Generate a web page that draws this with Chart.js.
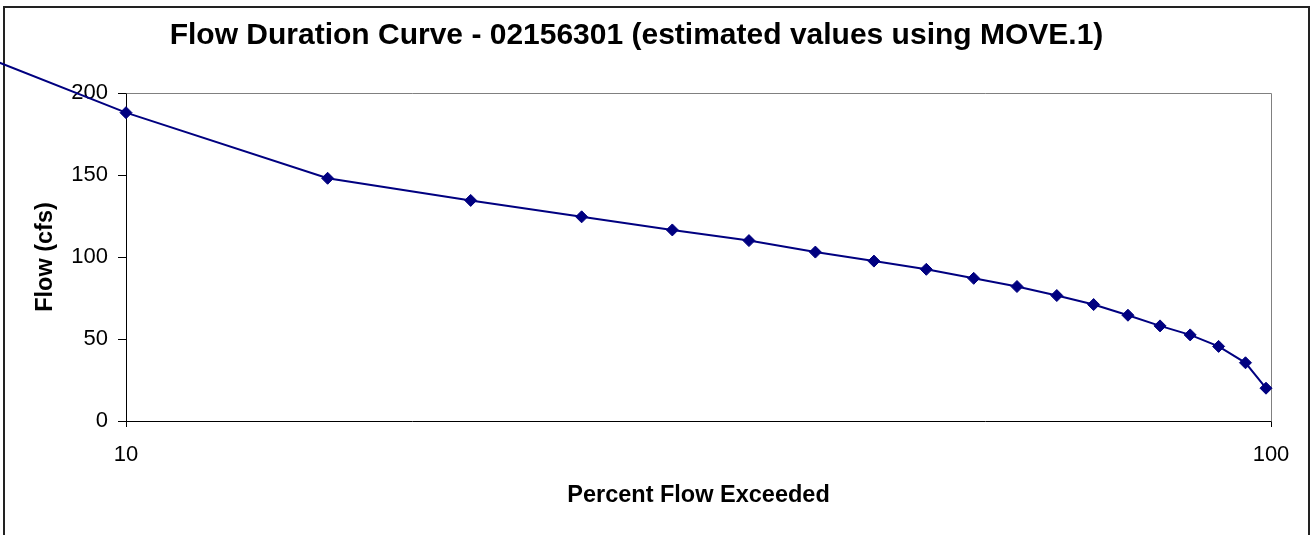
<!DOCTYPE html>
<html>
<head>
<meta charset="utf-8">
<script src="https://cdn.jsdelivr.net/npm/chart.js@4/dist/chart.umd.min.js"></script>
<style>
  html, body { margin: 0; padding: 0; background: #fff; }
  canvas { display: block; }
</style>
</head>
<body>
<canvas id="fdc" width="1316" height="535"></canvas>
<script>
// Percent of time a flow is equalled or exceeded
const percentExceeded = [5, 10, 15, 20, 25, 30, 35, 40, 45, 50, 55, 60, 65, 70, 75, 80, 85, 90, 95, 99];
// Estimated flow (cfs) for each exceedance percentage
const flowCfs = [271, 188, 148, 134.5, 124.5, 116.5, 110, 103, 97.5, 92.5, 87, 82, 76.5, 71, 64.5, 58, 52.5, 45.5, 35.5, 20];

const xTickValues = [10, 100];
const xTickLabels = ['10', '100'];
const yTickValues = [0, 50, 100, 150, 200];
const yTickLabels = ['0', '50', '100', '150', '200'];

const chartTitle = 'Flow Duration Curve - 02156301 (estimated values using MOVE.1)';
const xTitle = 'Percent Flow Exceeded';
const yTitle = 'Flow (cfs)';

const FONT = "'Liberation Sans', Arial, sans-serif";

// Outer frame of the chart and grey top/right edges of the plot area
const framePlugin = {
  id: 'frame',
  beforeDraw(chart) {
    const ctx = chart.ctx;
    ctx.save();
    ctx.fillStyle = '#ffffff';
    ctx.fillRect(0, 0, chart.width, chart.height);
    ctx.strokeStyle = '#222222';
    ctx.lineWidth = 2;
    ctx.beginPath();
    ctx.moveTo(4, chart.height + 5);
    ctx.lineTo(4, 7);
    ctx.lineTo(1309, 7);
    ctx.lineTo(1309, chart.height + 5);
    ctx.stroke();
    ctx.restore();
  },
  beforeDatasetsDraw(chart) {
    const a = chart.chartArea;
    const ctx = chart.ctx;
    ctx.save();
    ctx.strokeStyle = '#808080';
    ctx.lineWidth = 1;
    ctx.beginPath();
    ctx.moveTo(Math.round(a.left) + 0.5, Math.round(a.top) + 0.5);
    ctx.lineTo(Math.round(a.right) + 0.5, Math.round(a.top) + 0.5);
    ctx.lineTo(Math.round(a.right) + 0.5, Math.round(a.bottom) + 0.5);
    ctx.stroke();
    ctx.restore();
  }
};

new Chart(document.getElementById('fdc'), {
  type: 'line',
  data: {
    datasets: [{
      data: percentExceeded.map((p, i) => ({ x: p, y: flowCfs[i] })),
      borderColor: '#000080',
      backgroundColor: '#000080',
      borderWidth: 2,
      pointStyle: 'rectRot',
      pointRadius: 6,
      pointBorderWidth: 1,
      pointBorderColor: '#000080',
      pointBackgroundColor: '#000080',
      tension: 0,
      fill: false,
      clip: false
    }]
  },
  options: {
    responsive: false,
    animation: false,
    events: [],
    layout: { padding: { left: 2, right: 45, top: 7, bottom: 0 } },
    plugins: {
      legend: { display: false },
      tooltip: { enabled: false },
      title: {
        display: true,
        text: chartTitle,
        color: '#000',
        font: { family: FONT, size: 30, weight: 'bold', lineHeight: 1.2 },
        padding: { top: 11, bottom: 39 }
      }
    },
    scales: {
      x: {
        type: 'logarithmic',
        position: 'bottom',
        min: 10,
        max: 100,
        afterBuildTicks(scale) {
          scale.ticks = xTickValues.map(v => ({ value: v }));
        },
        afterFit(scale) { scale.height = 114; },
        ticks: {
          autoSkip: false,
          maxRotation: 0,
          color: '#000',
          padding: 15,
          font: { family: FONT, size: 22, lineHeight: 1.2 },
          callback: (value, index) => xTickLabels[index]
        },
        grid: {
          drawOnChartArea: false,
          drawTicks: true,
          tickLength: 6,
          color: '#000',
          tickColor: '#000'
        },
        border: { display: true, color: '#000', width: 1 },
        title: {
          display: true,
          text: xTitle,
          color: '#000',
          font: { family: FONT, size: 23.5, weight: 'bold', lineHeight: 1.2 },
          padding: { top: 0, bottom: 25 }
        }
      },
      y: {
        type: 'linear',
        position: 'left',
        min: 0,
        max: 200,
        afterBuildTicks(scale) {
          scale.ticks = yTickValues.map(v => ({ value: v }));
        },
        afterFit(scale) { scale.width = 124; },
        ticks: {
          color: '#000',
          padding: 10,
          font: { family: FONT, size: 22, lineHeight: 1.2 },
          callback: (value, index) => yTickLabels[index]
        },
        grid: {
          drawOnChartArea: false,
          drawTicks: true,
          tickLength: 8,
          color: '#000',
          tickColor: '#000'
        },
        border: { display: true, color: '#000', width: 1 },
        title: {
          display: true,
          text: yTitle,
          color: '#000',
          font: { family: FONT, size: 23.5, weight: 'bold', lineHeight: 1.2 },
          padding: { top: 29, bottom: 0 }
        }
      }
    }
  },
  plugins: [framePlugin]
});
</script>
</body>
</html>
